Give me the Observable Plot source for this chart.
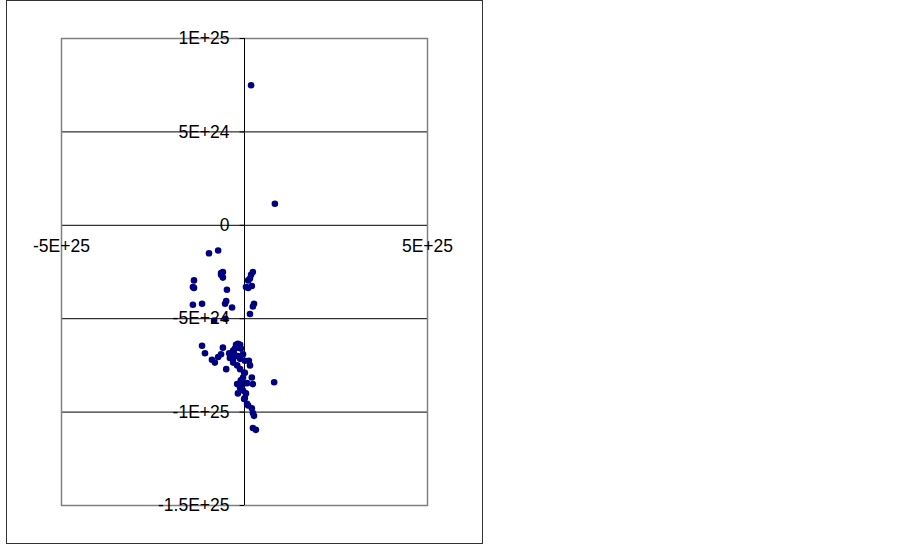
<!DOCTYPE html>
<html>
<head>
<meta charset="utf-8">
<script src="https://cdn.jsdelivr.net/npm/d3@7"></script>
<script src="https://cdn.jsdelivr.net/npm/@observablehq/plot@0.6"></script>
<style>
  html, body { margin: 0; padding: 0; background: #fff; }
  #box { position: absolute; left: 6px; top: 0px; width: 475px; height: 542px; border: 1px solid #333; }
  #box svg { display: block; }
</style>
</head>
<body>
<div id="box"></div>
<script>
const xValues = [1.8e24, 8.3e24, -9.7e24, -7.2e24, -6.4e24, -5.9e24, -6.4e24, -5.9e24, -13.8e24, -14.1e24,
  -13.8e24, -4.8e24, 2.3e24, 1.8e24, 1.5e24, 1.0e24, 2.0e24, 0.4e24, 1.0e24, -14.1e24,
  -11.6e24, -5.0e24, -5.3e24, -3.4e24, 2.6e24, 2.3e24, 1.5e24, -8.3e24, -5.2e24, -11.6e24,
  -10.8e24, -8.1e24, -7.2e24, -6.4e24, -5.9e24, -5.0e24, -8.9e24, -1.8e24, -2.3e24, -1.2e24,
  -2.0e24, -1.5e24, -2.6e24, -3.1e24, -1.0e24, -3.4e24, -2.9e24, -3.1e24, -3.1e24, -2.0e24,
  -1.2e24, -0.4e24, 0.1e24, 1.2e24, 1.5e24, 0.1e24, -0.4e24, 2.0e24, -1.8e24, -1.2e24,
  -4.2e24, -4.0e24, -0.1e24, -2.0e24, -1.2e24, -0.4e24, 0.7e24, 2.3e24, 8.1e24, -1.8e24,
  -0.4e24, 0.1e24, 0.7e24, 2.0e24, 2.3e24, 2.6e24, 2.3e24, 3.1e24, 0.4e24, -1.0e24,
  -0.1e24, 1.0e24];
const yValues = [7.5e24, 1.15e24, -1.5e24, -1.35e24, -2.55e24, -2.5e24, -2.65e24, -2.8e24, -2.95e24, -3.3e24,
  -3.35e24, -3.45e24, -2.5e24, -2.65e24, -2.85e24, -2.95e24, -3.25e24, -3.3e24, -3.35e24, -4.25e24,
  -4.2e24, -4.05e24, -4.2e24, -4.4e24, -4.2e24, -4.35e24, -4.75e24, -5.1e24, -5.0e24, -6.45e24,
  -6.85e24, -7.35e24, -7.05e24, -6.9e24, -6.55e24, -7.7e24, -7.2e24, -6.35e24, -6.4e24, -6.4e24,
  -6.5e24, -6.55e24, -6.6e24, -6.7e24, -6.6e24, -7.0e24, -6.85e24, -7.15e24, -7.35e24, -7.5e24,
  -7.7e24, -6.9e24, -7.25e24, -7.25e24, -7.5e24, -7.9e24, -8.15e24, -8.15e24, -7.0e24, -7.15e24,
  -6.85e24, -7.1e24, -7.9e24, -8.5e24, -8.7e24, -8.5e24, -8.45e24, -8.5e24, -8.4e24, -9.0e24,
  -8.85e24, -9.25e24, -9.55e24, -9.8e24, -10.05e24, -10.2e24, -10.85e24, -10.95e24, -9.0e24, -8.3e24,
  -9.3e24, -9.65e24];

const yTicks = [1e25, 5e24, 0, -5e24, -1e25, -1.5e25];
const yTickLabels = ["1E+25", "5E+24", "0", "-5E+24", "-1E+25", "-1.5E+25"];
const xTicks = [-5e25, 5e25];
const xTickLabels = ["-5E+25", "5E+25"];

const points = xValues.map((x, i) => ({x, y: yValues[i]}));
const yTickData = yTicks.map((v, i) => ({v, label: yTickLabels[i]}));
const xTickData = xTicks.map((v, i) => ({v, label: xTickLabels[i]}));
const font = "'Liberation Sans', Arial, sans-serif";

const chart = Plot.plot({
  width: 475,
  height: 542,
  marginLeft: 54,
  marginRight: 55,
  marginTop: 37,
  marginBottom: 38,
  style: {background: "#fff", fontFamily: font},
  x: {domain: [-5e25, 5e25], axis: null},
  y: {domain: [-1.5e25, 1e25], axis: null},
  marks: [
    Plot.ruleY(yTicks.filter(v => v > -1.5e25 && v < 1e25), {stroke: "#000", strokeWidth: 1}),
    Plot.frame({stroke: "#808080", strokeWidth: 1.5}),
    Plot.ruleX([0], {stroke: "#000", strokeWidth: 1}),
    Plot.ruleY(yTicks, {x1: -1.2e24, x2: 0, stroke: "#000"}),
    Plot.dot(points, {x: "x", y: "y", r: 3.3, fill: "#000080", stroke: null}),
    Plot.text(yTickData, {x: 0, y: "v", text: "label", textAnchor: "end", dx: -15, fontSize: 17.5, fill: "#000", fontFamily: font}),
    Plot.text(xTickData, {x: "v", y: 0, text: "label", textAnchor: "middle", dy: 21, fontSize: 17.5, fill: "#000", fontFamily: font})
  ]
});
document.getElementById("box").appendChild(chart);
</script>
</body>
</html>
